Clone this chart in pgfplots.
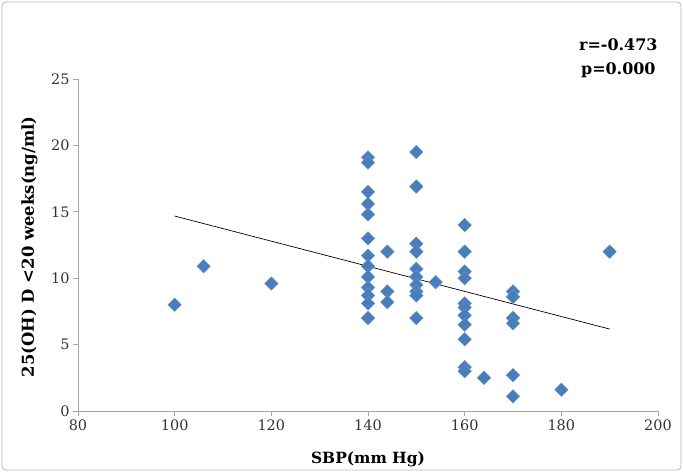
\documentclass[border=0pt]{standalone}
\usepackage{pgfplots}
\pgfplotsset{compat=1.18}
\usepackage{fontspec}
\setmainfont{DejaVu Serif}
\usetikzlibrary{calc}
\definecolor{dotblue}{HTML}{4A7EBB}
\definecolor{axgray}{HTML}{A6A6A6}
\begin{document}
\begin{tikzpicture}
\begin{axis}[
    scale only axis,
    width=580bp,
    height=332bp,
    xmin=80, xmax=200,
    ymin=0, ymax=25,
    xtick={80,100,...,200},
    ytick={0,5,...,25},
    axis x line=bottom,
    axis y line=left,
    axis line style={-, axgray, line width=0.8pt},
    tick style={axgray, line width=0.8pt},
    tick align=outside,
    major tick length=5bp,
    ticklabel style={font=\fontsize{14.5}{16}\selectfont, text=black!80},
    /pgf/number format/assume math mode=true,
    xlabel={SBP(mm Hg)},
    ylabel={25(OH) D <20 weeks(ng/ml)},
    label style={font=\bfseries\fontsize{15.5}{18}\selectfont},
    xlabel style={at={(axis description cs:0.5,0)}, anchor=north, yshift=-37bp},
    ylabel style={font=\bfseries\fontsize{16.5}{18}\selectfont,
        at={(axis description cs:0,0.495)}, anchor=south, yshift=37bp},
    clip=false,
]
\addplot[only marks, mark=square*, mark size=4.8bp,
    mark options={rotate=45, fill=dotblue, draw=dotblue!85!white}] coordinates {
    (100,8.0) (106,10.9) (120,9.6)
    (140,19.1) (140,18.7) (140,16.5) (140,15.6) (140,14.8) (140,13.0)
    (140,11.7) (140,10.9) (140,10.1) (140,9.3) (140,8.7) (140,8.1) (140,7.0)
    (144,12.0) (144,9.0) (144,8.2)
    (150,19.5) (150,16.9) (150,12.6) (150,12.0) (150,10.7) (150,10.1)
    (150,9.5) (150,9.0) (150,8.7) (150,7.0)
    (154,9.7)
    (160,14.0) (160,12.0) (160,10.5) (160,10.0) (160,8.1) (160,7.8)
    (160,7.2) (160,6.5) (160,5.4) (160,3.3) (160,3.0)
    (164,2.5)
    (170,9.0) (170,8.6) (170,7.0) (170,6.6) (170,2.7) (170,1.1)
    (180,1.6) (190,12.0)
};
\addplot[black, line width=0.7pt] coordinates {(100,14.68) (190,6.17)};
\node[anchor=north east, align=center, font=\bfseries\fontsize{16}{24}\selectfont]
    at (rel axis cs:1,1) [yshift=44bp, xshift=3bp] {r=-0.473\\p=0.000};
\end{axis}
\useasboundingbox ($(current axis.south west)+(-78bp,-61bp)$) rectangle ($(current axis.north east)+(25bp,79bp)$);
\draw[axgray!80, line width=0.8pt, rounded corners=4bp]
    ($(current axis.south west)+(-76bp,-59bp)$) rectangle ($(current axis.north east)+(23bp,77bp)$);
\end{tikzpicture}
\end{document}
